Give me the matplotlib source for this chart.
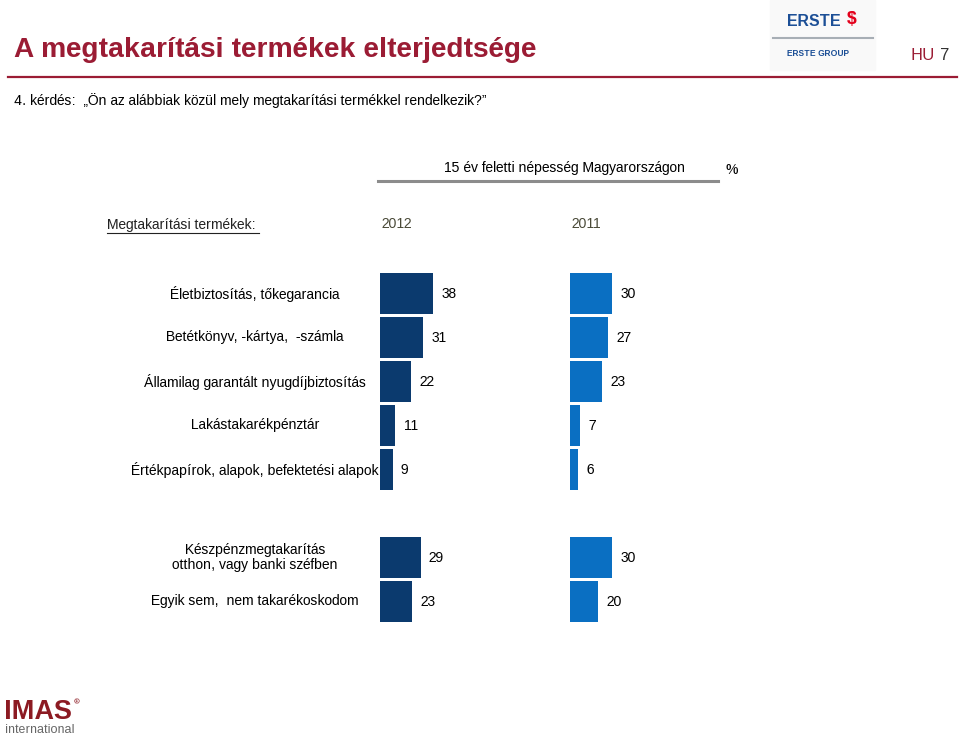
import matplotlib
matplotlib.use("Agg")
import matplotlib.pyplot as plt

plt.rcParams['font.family'] = ['Liberation Sans', 'DejaVu Sans']
plt.rcParams['text.hinting_factor'] = 2

W, H = 959, 736

categories = [
    "Életbiztosítás, tőkegarancia",
    "Betétkönyv, -kártya,  -számla",
    "Államilag garantált nyugdíjbiztosítás",
    "Lakástakarékpénztár",
    "Értékpapírok, alapok, befektetési alapok",
    "Készpénzmegtakarítás\notthon, vagy banki széfben",
    "Egyik sem,  nem takarékoskodom",
]
positions = [0, 1, 2, 3, 4, 6, 7]
values_2012 = [38, 31, 22, 11, 9, 29, 23]
values_2011 = [30, 27, 23, 7, 6, 30, 20]
years = ["2012", "2011"]

col_2012 = "#0b3a6e"
col_2011 = "#0a6fc2"
dark_red = "#9b1c34"
fs = 10


def fx(x):
    return x / W


def fy(y):
    return 1 - y / H


fig = plt.figure(figsize=(W / 100, H / 100), dpi=100)

# header
fig.text(fx(14), fy(50), "A megtakarítási termékek elterjedtsége", fontsize=20.3,
         fontweight='bold', color=dark_red, va='center', ha='left')
fig.add_artist(plt.Line2D([fx(8), fx(957)], [fy(77), fy(77)], color=dark_red, lw=1.6))
fig.text(fx(911), fy(55), "HU", fontsize=12, color=dark_red, va='center', ha='left')
fig.text(fx(940), fy(55), "7", fontsize=12, color="#333333", va='center', ha='left')
fig.text(fx(14), fy(101), "4. kérdés:  \u201eÖn az alábbiak közül mely megtakarítási termékkel rendelkezik?\u201d",
         fontsize=fs, color="black", va='center', ha='left')

# erste logo
fig.add_artist(plt.Rectangle((fx(770), fy(70)), 105 / W, 70 / H, color="#f9f9f9", zorder=0))
fig.text(fx(787), fy(21), "ERSTE", fontsize=11.5, fontweight='bold', color="#1c4f96",
         va='center', ha='left')
fig.text(fx(852), fy(20), "$", fontsize=13, fontweight='bold', color="#e3001b",
         va='center', ha='center')
fig.add_artist(plt.Line2D([fx(773), fx(873)], [fy(38), fy(38)], color="#a7aeb5", lw=1.5))
fig.text(fx(787), fy(53), "ERSTE GROUP", fontsize=6.2, fontweight='bold', color="#1c4f96",
         va='center', ha='left')

# imas logo
fig.text(fx(4), fy(712), "IMAS", fontsize=19.5, fontweight='bold', color="#8c1a22",
         va='center', ha='left')
fig.text(fx(74), fy(703), "®", fontsize=5, color="#8c1a22", va='center', ha='left')
fig.text(fx(5), fy(730), "international", fontsize=9, color="#666666",
         va='center', ha='left')

# chart header
fig.text(fx(565), fy(168), "15 év feletti népesség Magyarországon", fontsize=fs,
         va='center', ha='center')
fig.add_artist(plt.Line2D([fx(378), fx(718)], [fy(181), fy(181)], color="#8c8c8c", lw=2.2))
fig.text(fx(726), fy(170), "%", fontsize=fs, va='center', ha='left')
fig.text(fx(107), fy(225), "Megtakarítási termékek:", fontsize=fs, color="#222222",
         va='center', ha='left')
fig.add_artist(plt.Line2D([fx(107), fx(259)], [fy(233), fy(233)], color="#222222", lw=0.8))

scale = 1.4  # pixels per percent
ax_w, ax_top, ax_bot = 180, 271.5, 623.5
axes = []
for left, vals, col, yr in [(380, values_2012, col_2012, years[0]),
                            (570, values_2011, col_2011, years[1])]:
    ax = fig.add_axes([fx(left), fy(ax_bot), ax_w / W, (ax_bot - ax_top) / H])
    ax.barh(positions, vals, height=0.91, color=col)
    for p, v in zip(positions, vals):
        ax.annotate(str(v), xy=(v, p), xytext=(6, 0), textcoords='offset points',
                    fontsize=fs, va='center', ha='left')
    ax.set_xlim(0, ax_w / scale)
    ax.set_ylim(7.5, -0.5)
    ax.axis('off')
    fig.text(fx(left + 2), fy(224), yr, fontsize=fs, color="#4a4a38",
             va='center', ha='left')
    axes.append(ax)

# category labels
for p, c in zip(positions, categories):
    axes[0].annotate(c, xy=(0, p), xycoords='data', xytext=(-125, 0),
                     textcoords='offset pixels', fontsize=fs, va='center', ha='center',
                     multialignment='center', linespacing=1.1)

fig.savefig("out.png", dpi=100)
